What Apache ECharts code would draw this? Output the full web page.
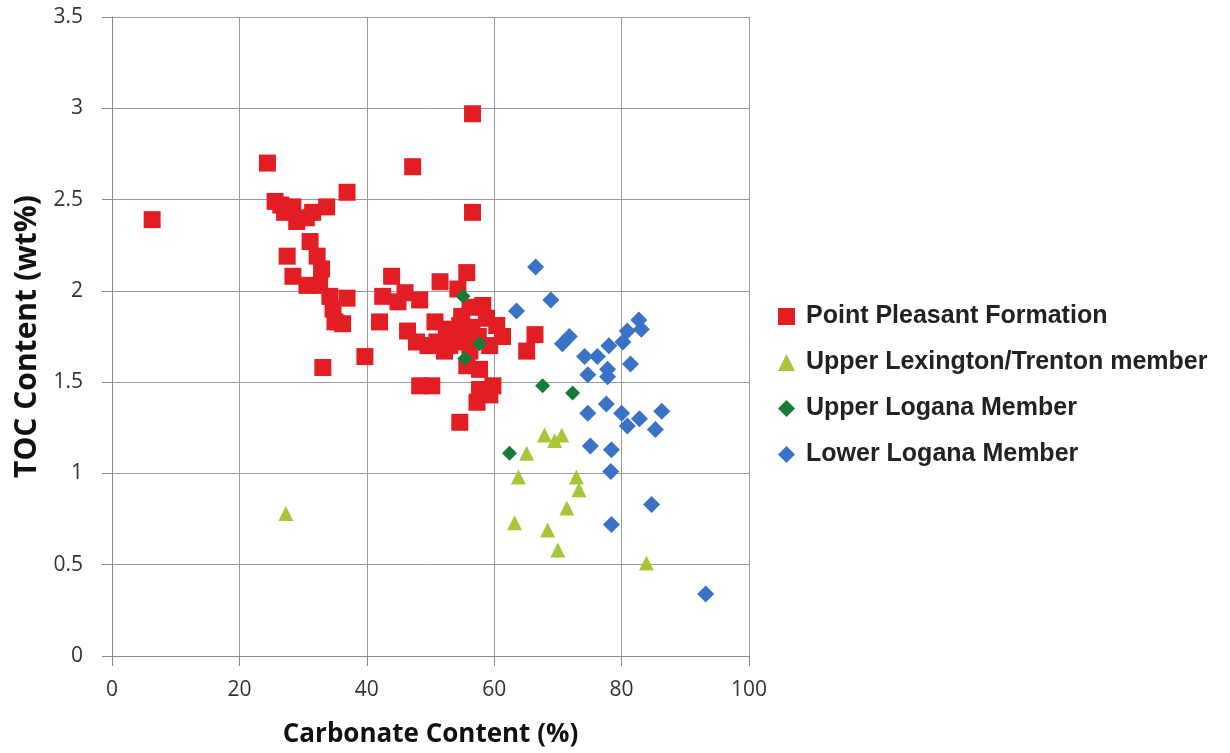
<!DOCTYPE html>
<html><head><meta charset="utf-8">
<script src="https://cdn.jsdelivr.net/npm/echarts@6/dist/echarts.min.js"></script>
<style>html,body{margin:0;padding:0;background:#fff}#c{width:1230px;height:753px}</style>
</head><body><div id="c"></div>
<script>
const seriesNames = ["Point Pleasant Formation","Upper Lexington/Trenton member","Upper Logana Member","Lower Logana Member"];
const xTicks = [0,20,40,60,80,100];
const yTicks = [0,0.5,1,1.5,2,2.5,3,3.5];
const pointPleasant = [[6.3,2.39],[24.4,2.70],[36.9,2.54],[25.6,2.49],[26.5,2.47],[28.4,2.46],[27.1,2.43],[29.0,2.38],[31.5,2.43],[33.7,2.46],[30.5,2.40],[31.1,2.27],[27.5,2.19],[32.2,2.19],[32.9,2.12],[28.4,2.08],[30.6,2.03],[32.6,2.03],[34.2,1.97],[36.9,1.96],[34.7,1.90],[35.0,1.83],[36.2,1.82],[33.1,1.58],[39.7,1.64],[42.0,1.83],[42.5,1.97],[43.9,2.08],[44.9,1.94],[46.0,1.99],[48.3,1.95],[46.4,1.78],[47.8,1.72],[49.6,1.70],[50.7,1.83],[52.2,1.67],[52.5,1.79],[54.1,1.78],[54.9,1.86],[56.2,1.91],[58.2,1.92],[58.8,1.85],[60.4,1.81],[61.3,1.75],[59.3,1.70],[56.2,1.67],[53.5,1.74],[54.6,1.81],[55.7,1.59],[57.7,1.57],[57.7,1.46],[59.8,1.48],[57.3,1.39],[59.3,1.43],[48.3,1.48],[50.2,1.48],[54.6,1.28],[66.4,1.76],[65.1,1.67],[56.6,2.97],[47.2,2.68],[56.6,2.43],[51.5,2.05],[55.7,2.10],[54.3,2.01],[57.5,1.75],[55.5,1.72],[51.0,1.72],[56.5,1.80],[53.0,1.70]];
const upperLexington = [[27.3,0.78],[67.9,1.21],[69.5,1.18],[70.6,1.21],[65.1,1.11],[63.8,0.98],[72.9,0.98],[73.3,0.91],[71.4,0.81],[63.2,0.73],[68.4,0.69],[70.0,0.58],[83.9,0.51]];
const upperLogana = [[55.1,1.97],[57.7,1.71],[55.4,1.63],[67.6,1.48],[72.3,1.44],[62.4,1.11]];
const lowerLogana = [[66.5,2.13],[68.9,1.95],[63.5,1.89],[70.7,1.71],[71.8,1.75],[74.2,1.64],[76.2,1.64],[78.0,1.70],[80.2,1.72],[80.9,1.78],[82.7,1.84],[83.1,1.79],[81.4,1.60],[74.7,1.54],[77.8,1.57],[77.8,1.53],[77.6,1.38],[74.7,1.33],[80.0,1.33],[80.9,1.26],[82.8,1.30],[86.3,1.34],[85.3,1.24],[75.1,1.15],[78.4,1.13],[78.3,1.01],[84.7,0.83],[78.4,0.72],[93.2,0.34]];

const chart = echarts.init(document.getElementById('c'));
const tickFont = {fontFamily:'Open Sans', fontSize:21, color:'#333'};
chart.setOption({
  animation:false,
  backgroundColor:'#fff',
  grid:{left:112, right:481, top:17, bottom:95},
  legend:{
    orient:'vertical', left:773, top:299, itemGap:21,
    itemWidth:17, itemHeight:17,
    textStyle:{fontFamily:'Liberation Sans', fontWeight:'bold', fontSize:25, color:'#222', padding:[0,0,0,6]},
    data:seriesNames
  },
  xAxis:{
    type:'value', min:0, max:100, interval:20,
    name:'Carbonate Content (%)', nameLocation:'middle', nameGap:66,
    nameTextStyle:{fontFamily:'Open Sans', fontWeight:'bold', fontSize:26, color:'#111'},
    axisLine:{lineStyle:{color:'#888', width:1}},
    axisTick:{show:true, length:10, lineStyle:{color:'#888'}},
    axisLabel:Object.assign({margin:24, formatter:v=>xTicks.includes(v)?String(v):''}, tickFont),
    splitLine:{show:true, lineStyle:{color:'#9a9a9a', width:1}}
  },
  yAxis:{
    type:'value', min:0, max:3.5, interval:0.5,
    name:'TOC Content (wt%)', nameLocation:'middle', nameGap:67, nameRotate:90,
    nameTextStyle:{fontFamily:'Open Sans', fontWeight:'bold', fontSize:30, color:'#111'},
    axisLine:{show:true, lineStyle:{color:'#888', width:1}},
    axisTick:{show:true, length:10, lineStyle:{color:'#888'}},
    axisLabel:Object.assign({margin:29, formatter:v=>yTicks.includes(v)?String(v):''}, tickFont),
    splitLine:{show:true, lineStyle:{color:'#9a9a9a', width:1}}
  },
  series:[
    {name:seriesNames[0], type:'scatter', symbol:'rect', symbolSize:17, data:pointPleasant, itemStyle:{color:'#e21d23', opacity:1}},
    {name:seriesNames[1], type:'scatter', symbol:'triangle', symbolSize:[15,15], data:upperLexington, itemStyle:{color:'#a7c739', opacity:1}},
    {name:seriesNames[2], type:'scatter', symbol:'diamond', symbolSize:[15,15], data:upperLogana, itemStyle:{color:'#177a37', opacity:1}, z:3},
    {name:seriesNames[3], type:'scatter', symbol:'diamond', symbolSize:[17,17], data:lowerLogana, itemStyle:{color:'#3a73c6', opacity:1}}
  ]
});
</script></body></html>
